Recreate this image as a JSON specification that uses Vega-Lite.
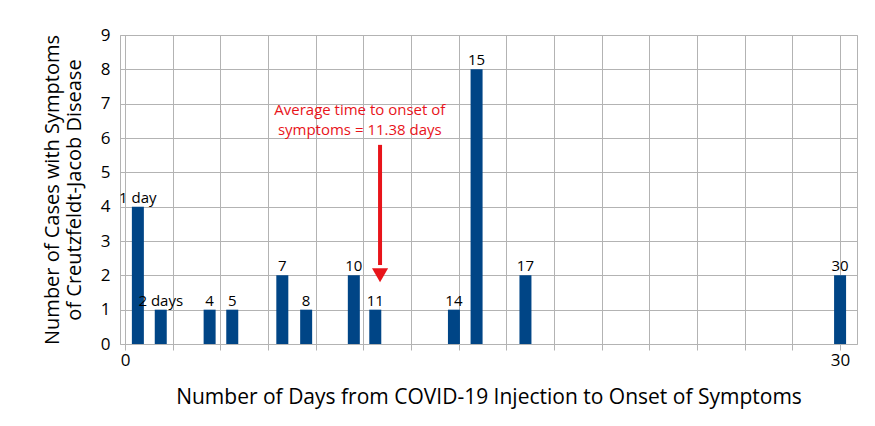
{
  "$schema": "https://vega.github.io/schema/vega-lite/v6.json",
  "width": 737,
  "height": 309,
  "autosize": "none",
  "padding": {"left": 120, "top": 35, "right": 18, "bottom": 82},
  "background": "white",
  "config": {"font": "Open Sans", "view": {"stroke": "#b3b3b3"}},
  "datasets": {
    "bars": [
      {"pos": 0.54, "n": 4, "label": "1 day"},
      {"pos": 1.5, "n": 1, "label": "2 days"},
      {"pos": 3.55, "n": 1, "label": "4"},
      {"pos": 4.5, "n": 1, "label": "5"},
      {"pos": 6.6, "n": 2, "label": "7"},
      {"pos": 7.6, "n": 1, "label": "8"},
      {"pos": 9.6, "n": 2, "label": "10"},
      {"pos": 10.5, "n": 1, "label": "11"},
      {"pos": 13.8, "n": 1, "label": "14"},
      {"pos": 14.75, "n": 8, "label": "15"},
      {"pos": 16.8, "n": 2, "label": "17"},
      {"pos": 30.0, "n": 2, "label": "30"}
    ],
    "note": [
      {"x": 9.85, "y": 6.81, "t": "Average time to onset of"},
      {"x": 9.85, "y": 6.23, "t": "symptoms = 11.38 days"}
    ],
    "arrow": [{"x": 10.7, "y1": 5.8, "y2": 2.3, "tip": 2.0}]
  },
  "layer": [
    {
      "data": {"name": "bars"},
      "mark": {"type": "bar", "color": "#004586", "width": 12},
      "encoding": {
        "x": {
          "field": "pos", "type": "quantitative",
          "scale": {"domain": [0, 30.5], "nice": false},
          "axis": {
            "values": [0,1,2,3,4,5,6,7,8,9,10,11,12,13,14,15,16,17,18,19,20,21,22,23,24,25,26,27,28,29,30],
            "labelExpr": "datum.value % 15 == 0 ? datum.label : ''",
            "grid": true, "gridColor": "#b3b3b3", "labelFontSize": 17, "labelColor": "black",
            "tickSize": 6, "tickColor": "#b3b3b3", "domain": false, "labelPadding": 2,
            "title": "Number of Days from COVID-19 Injection to Onset of Symptoms",
            "titleFontSize": 21, "titleFontWeight": "normal", "titlePadding": 18, "titleColor": "black"
          }
        },
        "y": {
          "field": "n", "type": "quantitative",
          "scale": {"domain": [0, 9], "nice": false},
          "axis": {
            "tickCount": 9, "gridColor": "#b3b3b3", "labelFontSize": 17, "labelColor": "black",
            "domain": false, "tickSize": 0, "labelPadding": 10,
            "title": ["Number of Cases with Symptoms", "of Creutzfeldt-Jacob Disease"],
            "titleFontSize": 20, "titleFontWeight": "normal", "titlePadding": 16, "titleColor": "black"
          }
        }
      }
    },
    {
      "data": {"name": "bars"},
      "mark": {"type": "text", "dy": -9, "fontSize": 15, "color": "black"},
      "encoding": {
        "x": {"field": "pos", "type": "quantitative"},
        "y": {"field": "n", "type": "quantitative"},
        "text": {"field": "label"}
      }
    },
    {
      "data": {"name": "note"},
      "mark": {"type": "text", "color": "#e8141a", "fontSize": 15},
      "encoding": {
        "x": {"field": "x", "type": "quantitative"},
        "y": {"field": "y", "type": "quantitative"},
        "text": {"field": "t"}
      }
    },
    {
      "data": {"name": "arrow"},
      "mark": {"type": "rule", "color": "#e8141a", "strokeWidth": 4},
      "encoding": {
        "x": {"field": "x", "type": "quantitative"},
        "y": {"field": "y1", "type": "quantitative"},
        "y2": {"field": "y2"}
      }
    },
    {
      "data": {"name": "arrow"},
      "mark": {"type": "point", "shape": "triangle-down", "filled": true, "color": "#e8141a", "size": 260, "opacity": 1},
      "encoding": {
        "x": {"field": "x", "type": "quantitative"},
        "y": {"field": "tip", "type": "quantitative"}
      }
    }
  ]
}
